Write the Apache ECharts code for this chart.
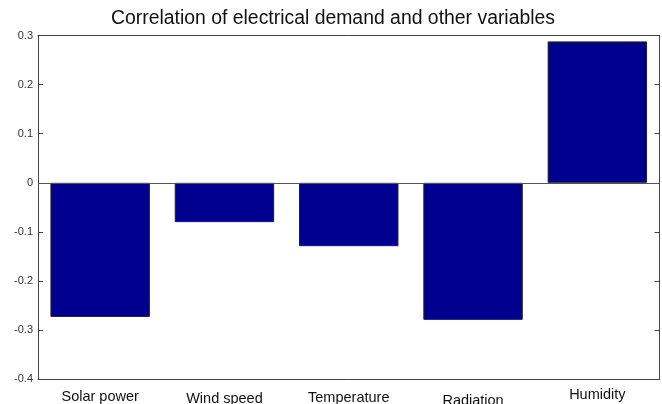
<!DOCTYPE html>
<html><head><meta charset="utf-8">
<script src="https://cdn.jsdelivr.net/npm/echarts@6/dist/echarts.min.js"></script>
<style>html,body{margin:0;padding:0;background:#fff}#c{width:662px;height:404px}</style>
</head><body><div id="c"></div>
<script>
const categories = ['Solar power', 'Wind speed', 'Temperature', 'Radiation', 'Humidity'];
const correlations = [-0.273, -0.080, -0.129, -0.279, 0.288];
const labelShift = [2, 4, 3, 6, 0];
const yTicks = { min: -0.4, max: 0.3, step: 0.1 };

const font = '"Liberation Sans", Arial, Helvetica, sans-serif';
const axisColor = '#444';
const chart = echarts.init(document.getElementById('c'), null, { renderer: 'canvas' });
chart.setOption({
  animation: false,
  title: {
    text: 'Correlation of electrical demand and other variables',
    left: 328, top: 4, textAlign: 'center',
    textStyle: { fontFamily: font, fontSize: 19.4, fontWeight: 'normal', color: '#111' }
  },
  grid: { left: 38, right: 2.5, top: 35.5, bottom: 24.7, containLabel: false, outerBoundsMode: 'none' },
  xAxis: [{
    type: 'category',
    data: categories.map((c, i) => ({ value: c, textStyle: { padding: [labelShift[i], 0, 0, 0] } })),
    position: 'bottom',
    axisLine: { onZero: false, lineStyle: { color: axisColor, width: 1 } },
    axisTick: { inside: true, alignWithLabel: true, length: 5, lineStyle: { color: axisColor } },
    axisLabel: { margin: 8, fontFamily: font, fontSize: 14.5, color: '#111', interval: 0 },
    splitLine: { show: false }
  }, {
    type: 'category',
    data: categories,
    position: 'top',
    axisLine: { onZero: false, lineStyle: { color: axisColor, width: 1 } },
    axisTick: { inside: true, alignWithLabel: true, length: 5, lineStyle: { color: axisColor } },
    axisLabel: { show: false },
    splitLine: { show: false }
  }],
  yAxis: [{
    type: 'value', min: yTicks.min, max: yTicks.max, interval: yTicks.step,
    position: 'left',
    axisLine: { show: true, onZero: false, lineStyle: { color: axisColor, width: 1 } },
    axisTick: { show: true, inside: true, length: 5, lineStyle: { color: axisColor } },
    axisLabel: { margin: 5, fontFamily: font, fontSize: 11, color: '#333',
      formatter: v => { const r = Math.round(v * 10) / 10; return r === 0 ? '0' : String(r); } },
    splitLine: { show: false }
  }, {
    type: 'value', min: yTicks.min, max: yTicks.max, interval: yTicks.step,
    position: 'right',
    axisLine: { show: true, onZero: false, lineStyle: { color: axisColor, width: 1 } },
    axisTick: { show: true, inside: true, length: 5, lineStyle: { color: axisColor } },
    axisLabel: { show: false },
    splitLine: { show: false }
  }],
  series: [{
    type: 'bar',
    data: correlations,
    barWidth: '80%',
    itemStyle: { color: '#00008f', borderColor: '#222', borderWidth: 1 },
    markLine: {
      silent: true, symbol: 'none', label: { show: false },
      lineStyle: { color: '#555', width: 1, type: 'solid' },
      data: [{ yAxis: 0 }]
    }
  }]
});
</script></body></html>
